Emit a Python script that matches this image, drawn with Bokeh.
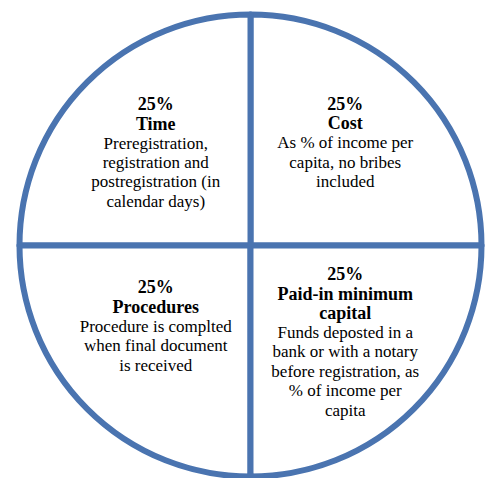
import numpy as np
from bokeh.plotting import figure
from bokeh.models import Range1d, ColumnDataSource
from bokeh.core.properties import value
from bokeh.embed import file_html
from bokeh.resources import INLINE

# ---- data (counterclockwise from 3 o'clock) ----
categories = ["Cost", "Time", "Procedures", "Paid-in minimum capital"]
shares = [25, 25, 25, 25]
share_labels = ["25%", "25%", "25%", "25%"]
title_lines = [["Cost"], ["Time"], ["Procedures"], ["Paid-in minimum", "capital"]]
desc_lines = [
    ["As % of income per", "capita, no bribes", "included"],
    ["Preregistration,", "registration and", "postregistration (in", "calendar days)"],
    ["Procedure is complted", "when final document", "is received"],
    ["Funds deposted in a", "bank or with a notary", "before registration, as",
     "% of income per", "capita"],
]

# ---- layout ----
W, H = 487, 478
PX = 231.0            # pixels per data unit (circle radius)
CX, CY = 250.0, 245.0  # circle centre in canvas pixels (from top-left)
BLUE = "#4a74b0"
FONT = "Liberation Serif"
LINE_H = 19.4
LABEL_R = 0.58
label_dy_px = [8, -2, 14, -2]   # small vertical nudges per block

p = figure(width=W, height=H, output_backend="svg", toolbar_location=None,
           x_axis_location=None, y_axis_location=None, min_border=0,
           x_range=Range1d(-CX / PX, (W - CX) / PX),
           y_range=Range1d(-(H - CY) / PX, CY / PX))
p.grid.visible = False
p.outline_line_color = None
p.background_fill_color = "white"
p.border_fill_color = "white"

frac = np.cumsum([0] + shares) / float(sum(shares))
start = frac[:-1] * 2 * np.pi
end = frac[1:] * 2 * np.pi

wsrc = ColumnDataSource(dict(start=start, end=end, cat=categories))
p.wedge(x=0, y=0, radius=1, start_angle="start", end_angle="end", source=wsrc,
        fill_color="white", line_color=BLUE, line_width=6, line_join="round")

xs, ys, txt, style, size = [], [], [], [], []
for i in range(len(categories)):
    mid = (start[i] + end[i]) / 2
    ax = LABEL_R * np.cos(mid)
    ay = LABEL_R * np.sin(mid) + label_dy_px[i] / PX
    lines = [share_labels[i]] + title_lines[i] + desc_lines[i]
    styles = ["bold"] * (1 + len(title_lines[i])) + ["normal"] * len(desc_lines[i])
    n = len(lines)
    for j, (t, s) in enumerate(zip(lines, styles)):
        off = (j - (n - 1) / 2.0) * LINE_H
        xs.append(ax)
        ys.append(ay - off / PX)
        txt.append(t)
        style.append(s)
        size.append("18px" if s == "bold" else "17px")

tsrc = ColumnDataSource(dict(x=xs, y=ys, text=txt, style=style, size=size))
p.text(x="x", y="y", text="text", source=tsrc, text_font=value(FONT),
       text_font_size="size", text_font_style="style", text_color="black",
       text_align="center", text_baseline="middle")

open("out.html", "w").write(file_html(p, INLINE))
